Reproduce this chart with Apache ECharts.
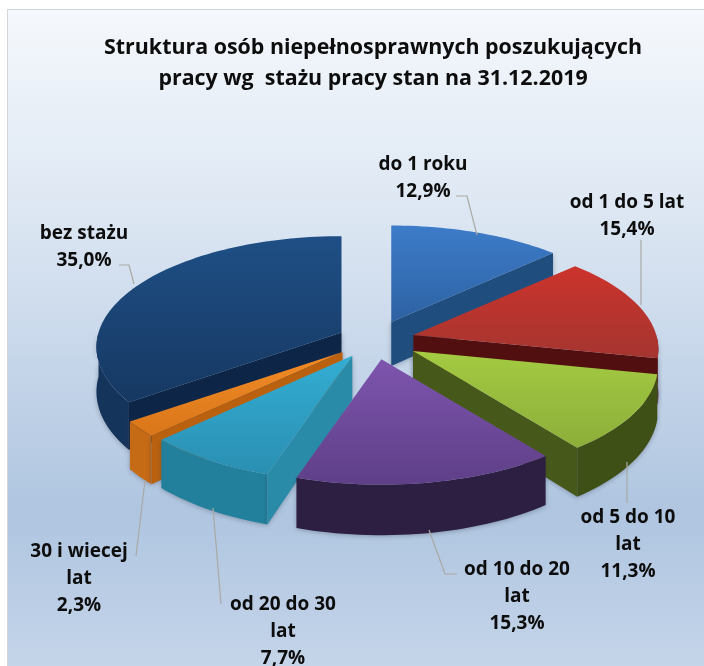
<!DOCTYPE html>
<html><head><meta charset="utf-8">
<style>html,body{margin:0;padding:0;background:#fff}#c{width:704px;height:666px}</style>
<script src="https://cdn.jsdelivr.net/npm/echarts@6/dist/echarts.min.js"></script>
</head><body><div id="c"></div>
<script>
var categories = ['do 1 roku','od 1 do 5 lat','od 5 do 10 lat','od 10 do 20 lat','od 20 do 30 lat','30 i wiecej lat','bez stażu'];
var values = [12.9,15.4,11.3,15.3,7.7,2.3,35.0];
var labelLines = [['do 1 roku','12,9%'],['od 1 do 5 lat','15,4%'],['od 5 do 10','lat','11,3%'],['od 10 do 20','lat','15,3%'],['od 20 do 30','lat','7,7%'],['30 i wiecej','lat','2,3%'],['bez stażu','35,0%']];
var explode = [0.18,0.168,0.19,0.18,0.17,0.17,0.15];
var drawOrder = [6,0,1,2,5,4,3];
var topColors = [['#3d7cc9','#2d62a3'],['#cc332c','#a53530'],['#a4cb42','#8cae3a'],['#7d55ad','#5f3f88'],['#33add3','#2a8fb2'],['#f28c26','#d97619'],['#1f4f85','#163862']];
var wallColors = ['#1f4a78','#4a0d0d','#3f5016','#2c1f42','#22809c','#c56a15','#14345c'];
var cutColors = ['#1f4d7d','#520f0f','#47591a','#2c1f42','#2a8ba8','#b9610f','#0d2547'];
var labelCenters = [[423,164],[627,202],[628,517],[517,569],[283,604],[79,551],[84,233]];
var leaderPaths = [[[456,196],[467,196],[477,235]],[[641,240],[641,305]],[[627,462],[627,503]],[[429,530],[445,574],[457,574]],[[213,508],[221,604]],[[145,480],[136,556]],[[119,265],[129,265],[134,284]]];

var cx=374, cy=340, R=243, Q=109, K=0.13, D=44;
var total = values.reduce(function(a,b){return a+b;},0);
var starts=[], a0=0;
values.forEach(function(v){starts.push(a0); a0+=v/total*Math.PI*2;});
function scale(t){return 1/(1+K*Math.cos(t));}
function apex(i){
  var b=starts[i]+values[i]/total*Math.PI;
  return [cx+explode[i]*R*Math.sin(b), cy-explode[i]*Q*Math.cos(b)];
}
function rim(i,t,dz){
  var a=apex(i), s=scale(t);
  return [a[0]+R*Math.sin(t)*s, a[1]-Q*Math.cos(t)*s+(dz?D*s:0)];
}
function arc(i,t0,t1,dz){
  var n=Math.max(2,Math.ceil((t1-t0)/0.03)), p=[];
  for(var k=0;k<=n;k++) p.push(rim(i,t0+(t1-t0)*k/n,dz));
  return p;
}
function renderSlice(params,api){
  var i=drawOrder[params.dataIndex];
  var t0=starts[i], t1=t0+values[i]/total*Math.PI*2;
  var a=apex(i), ab=[a[0],a[1]+D], kids=[];
  var fr0=Math.max(t0,Math.PI/2), fr1=Math.min(t1,Math.PI*1.5);
  var sh={shadowBlur:5,shadowColor:'rgba(40,50,70,0.35)',shadowOffsetY:1};
  if(fr1>fr0){
    kids.push({type:'polygon',shape:{points:arc(i,fr0,fr1,false).concat(arc(i,fr0,fr1,true).reverse())},
      style:Object.assign({fill:wallColors[i]},sh)});
  }
  if(Math.sin(t0)<0){
    kids.push({type:'polygon',shape:{points:[a,rim(i,t0,false),rim(i,t0,true),ab]},style:Object.assign({fill:cutColors[i]},sh)});
  }
  if(Math.sin(t1)>0.001){
    kids.push({type:'polygon',shape:{points:[a,rim(i,t1,false),rim(i,t1,true),ab]},style:Object.assign({fill:cutColors[i]},sh)});
  }
  var pts=[a].concat(arc(i,t0,t1,false));
  kids.push({type:'polygon',shape:{points:pts},style:{
    fill:new echarts.graphic.LinearGradient(0,0,0,1,[{offset:0,color:topColors[i][0]},{offset:1,color:topColors[i][1]}])}});
  return {type:'group',children:kids};
}
function leaderGraphics(){
  return leaderPaths.map(function(p){
    return {type:'polyline',shape:{points:p},style:{stroke:'#a9a9a4',lineWidth:1.2,fill:null},z:3};
  });
}
function labelGraphics(){
  return labelLines.map(function(lines,i){
    return {type:'text',x:labelCenters[i][0],y:labelCenters[i][1]-13,z:4,style:{
      text:lines.join('\n'),font:'bold 19px "Open Sans"',fill:'#0d0d0d',align:'center',verticalAlign:'top',lineHeight:27}};
  });
}
var chart=echarts.init(document.getElementById('c'),null,{renderer:'canvas'});
chart.setOption({
  animation:false,
  title:{text:'Struktura osób niepełnosprawnych poszukujących\npracy wg  stażu pracy stan na 31.12.2019',left:368,top:27,textAlign:'center',
    textStyle:{fontFamily:'Open Sans',fontWeight:'bold',fontSize:21.4,lineHeight:31,color:'#0d0d0d'}},
  graphic:[{type:'rect',z:-1,shape:{x:7.5,y:9.5,width:710,height:670},
    style:{stroke:'#d2d6da',lineWidth:1,fill:new echarts.graphic.LinearGradient(0,0,0,1,[{offset:0,color:'#f5f8fc'},{offset:0.3,color:'#dde7f3'},{offset:0.75,color:'#afc5e0'},{offset:1,color:'#c6d6ea'}])}}]
    .concat(leaderGraphics()).concat(labelGraphics()),
  series:[{type:'custom',coordinateSystem:'none',renderItem:renderSlice,z:2,
    data:drawOrder.map(function(i){return {name:categories[i],value:values[i]};})}]
});
</script></body></html>
